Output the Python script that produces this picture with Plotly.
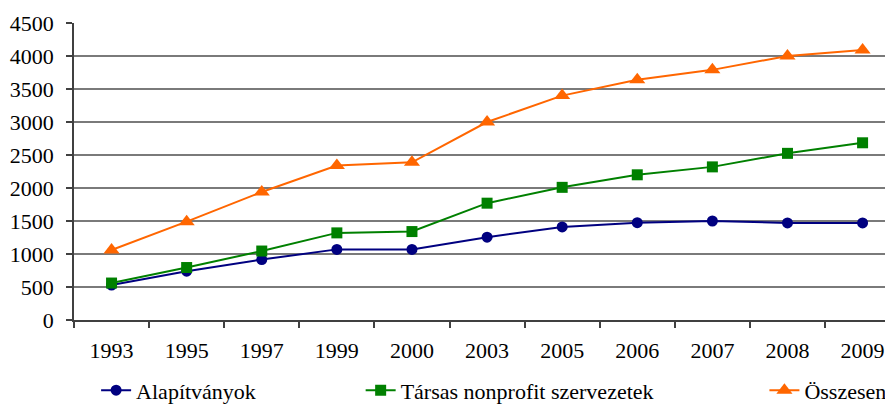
import plotly.graph_objects as go

years = ["1993", "1995", "1997", "1999", "2000", "2003", "2005", "2006", "2007", "2008", "2009"]
alapitvanyok = [530, 740, 915, 1070, 1070, 1255, 1410, 1475, 1500, 1470, 1470]
tarsas = [560, 795, 1045, 1320, 1340, 1770, 2010, 2200, 2320, 2525, 2685]
osszesen = [1060, 1490, 1940, 2340, 2390, 3000, 3400, 3640, 3790, 4000, 4090]
y_ticks = [0, 500, 1000, 1500, 2000, 2500, 3000, 3500, 4000, 4500]

FONT = "Liberation Serif"

fig = go.Figure()
fig.add_trace(go.Scatter(x=years, y=alapitvanyok, name="Alapítványok", mode="lines+markers",
                         line=dict(color="#000080", width=2),
                         marker=dict(symbol="circle", size=11, color="#000080"),
                         legend="legend"))
fig.add_trace(go.Scatter(x=years, y=tarsas, name="Társas nonprofit szervezetek", mode="lines+markers",
                         line=dict(color="#008000", width=2),
                         marker=dict(symbol="square", size=11, color="#008000"),
                         legend="legend2"))
fig.add_trace(go.Scatter(x=years, y=osszesen, name="Összesen", mode="lines+markers",
                         line=dict(color="#FF6600", width=2),
                         marker=dict(symbol="triangle-up", size=14, color="#FF6600"),
                         legend="legend3"))

leg_common = dict(orientation="h", yanchor="middle", y=-0.237, xanchor="left",
                  font=dict(family=FONT, size=22, color="black"), bgcolor="rgba(0,0,0,0)",
                  itemwidth=30)

# page body has an 8px margin, so the figure is sized/offset to compensate
fig.update_layout(
    width=885, height=397,
    margin=dict(l=66, r=0, t=15, b=85, autoexpand=False),
    paper_bgcolor="white", plot_bgcolor="white",
    font=dict(family=FONT, size=22, color="black"),
    showlegend=True,
    legend=dict(**leg_common, x=0.027),
    legend2=dict(**leg_common, x=0.35),
    legend3=dict(**leg_common, x=0.843),
    xaxis=dict(type="category", range=[-0.5, 10.405], tickson="boundaries",
               ticks="outside", ticklen=6, tickcolor="#404040", tickwidth=1.5,
               showline=True, linecolor="#404040", linewidth=1.5,
               showgrid=False, ticklabelstandoff=10, automargin=False,
               tickfont=dict(family=FONT, size=22, color="black")),
    yaxis=dict(range=[0, 4500], tickvals=y_ticks, ticks="outside", ticklen=6,
               tickcolor="#404040", tickwidth=1.5,
               showline=True, linecolor="#404040", linewidth=1.5,
               showgrid=True, gridcolor="#7a7a7a", gridwidth=1.5,
               zeroline=False, ticklabelstandoff=8, automargin=False,
               tickfont=dict(family=FONT, size=22, color="black")),
)

fig.write_html("out.html")
